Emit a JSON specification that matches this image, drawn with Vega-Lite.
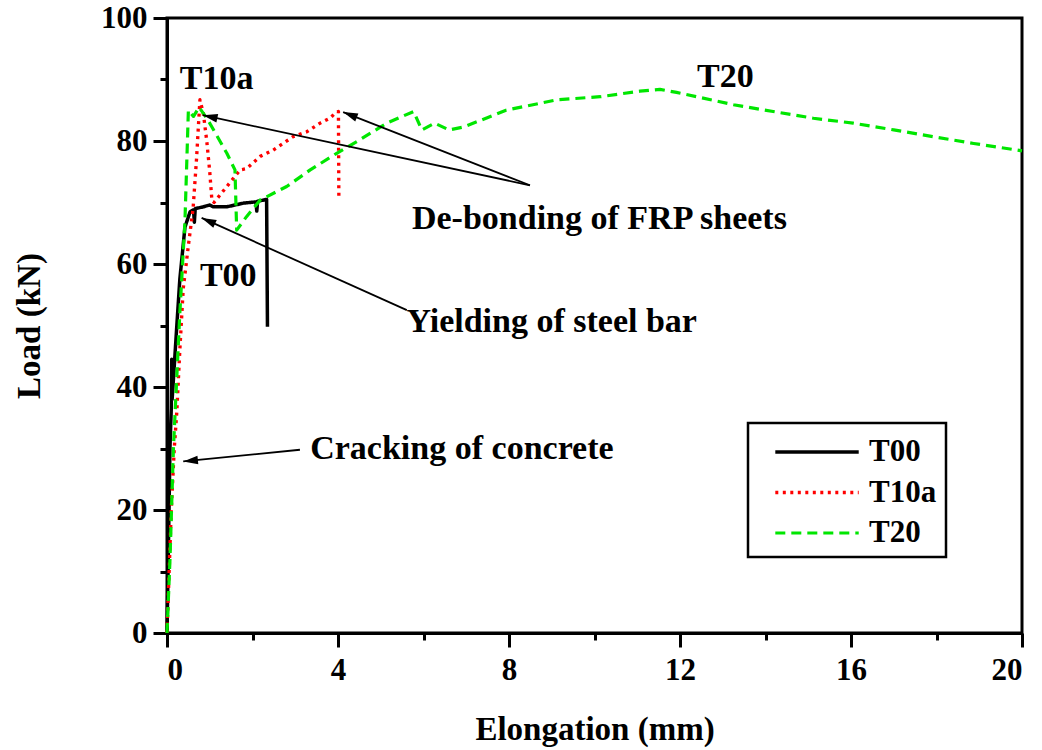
{
  "$schema": "https://vega.github.io/schema/vega-lite/v6.json",
  "width": 855,
  "height": 615,
  "autosize": {"type": "none"},
  "padding": {"left": 167, "top": 18, "right": 20, "bottom": 117},
  "background": "white",
  "config": {
    "view": {"stroke": "black", "strokeWidth": 3},
    "axis": {
      "domainColor": "black", "domainWidth": 3, "tickColor": "black", "tickWidth": 3,
      "labelColor": "black", "titleColor": "black",
      "labelFont": "Liberation Serif", "titleFont": "Liberation Serif",
      "labelFontWeight": "bold", "titleFontWeight": "bold",
      "labelFontSize": 31, "titleFontSize": 33, "grid": false
    },
    "legend": {
      "labelFont": "Liberation Serif", "labelFontWeight": "bold", "labelFontSize": 31, "labelColor": "black",
      "strokeColor": "black", "strokeWidth": 2.5, "padding": 9, "rowPadding": 5.5,
      "symbolStrokeWidth": 4
    }
  },
  "resolve": {"axis": {"x": "independent", "y": "independent"}},
  "layer": [
    {
      "data": {"values": [
        {"series": "T00", "elongation": 0, "load": 0},
        {"series": "T00", "elongation": 0.03, "load": 12.4},
        {"series": "T00", "elongation": 0.07, "load": 30.3},
        {"series": "T00", "elongation": 0.1, "load": 36.5},
        {"series": "T00", "elongation": 0.11, "load": 44.5},
        {"series": "T00", "elongation": 0.12, "load": 38},
        {"series": "T00", "elongation": 0.23, "load": 50},
        {"series": "T00", "elongation": 0.3, "load": 57.5},
        {"series": "T00", "elongation": 0.42, "load": 66},
        {"series": "T00", "elongation": 0.54, "load": 68.5},
        {"series": "T00", "elongation": 0.62, "load": 68.8},
        {"series": "T00", "elongation": 0.64, "load": 66.8},
        {"series": "T00", "elongation": 0.66, "load": 69},
        {"series": "T00", "elongation": 0.85, "load": 69.3},
        {"series": "T00", "elongation": 1.0, "load": 69.6},
        {"series": "T00", "elongation": 1.08, "load": 69.3},
        {"series": "T00", "elongation": 1.4, "load": 69.3},
        {"series": "T00", "elongation": 1.79, "load": 69.9},
        {"series": "T00", "elongation": 2.08, "load": 70.1},
        {"series": "T00", "elongation": 2.1, "load": 68.6},
        {"series": "T00", "elongation": 2.12, "load": 70.2},
        {"series": "T00", "elongation": 2.33, "load": 70.5},
        {"series": "T00", "elongation": 2.35, "load": 49.8},
        {"series": "T10a", "elongation": 0, "load": 0},
        {"series": "T10a", "elongation": 0.05, "load": 10},
        {"series": "T10a", "elongation": 0.1, "load": 20},
        {"series": "T10a", "elongation": 0.17, "load": 30},
        {"series": "T10a", "elongation": 0.23, "load": 36},
        {"series": "T10a", "elongation": 0.3, "load": 46},
        {"series": "T10a", "elongation": 0.38, "load": 56},
        {"series": "T10a", "elongation": 0.5, "load": 63},
        {"series": "T10a", "elongation": 0.61, "load": 69},
        {"series": "T10a", "elongation": 0.69, "load": 77},
        {"series": "T10a", "elongation": 0.77, "load": 86.7},
        {"series": "T10a", "elongation": 0.85, "load": 84.5},
        {"series": "T10a", "elongation": 0.93, "load": 80},
        {"series": "T10a", "elongation": 1.0, "load": 75},
        {"series": "T10a", "elongation": 1.05, "load": 70.4},
        {"series": "T10a", "elongation": 1.1, "load": 70},
        {"series": "T10a", "elongation": 1.4, "load": 72.6},
        {"series": "T10a", "elongation": 1.71, "load": 75.3},
        {"series": "T10a", "elongation": 1.86, "load": 75.5},
        {"series": "T10a", "elongation": 2.18, "load": 77.5},
        {"series": "T10a", "elongation": 2.48, "load": 78.5},
        {"series": "T10a", "elongation": 2.95, "load": 80.7},
        {"series": "T10a", "elongation": 3.27, "load": 81.5},
        {"series": "T10a", "elongation": 3.58, "load": 82.9},
        {"series": "T10a", "elongation": 3.81, "load": 83.7},
        {"series": "T10a", "elongation": 3.93, "load": 84.5},
        {"series": "T10a", "elongation": 4.01, "load": 84.8},
        {"series": "T10a", "elongation": 4.02, "load": 70.9},
        {"series": "T20", "elongation": 0, "load": 0},
        {"series": "T20", "elongation": 0.07, "load": 12},
        {"series": "T20", "elongation": 0.15, "load": 30},
        {"series": "T20", "elongation": 0.3, "load": 52},
        {"series": "T20", "elongation": 0.42, "load": 67},
        {"series": "T20", "elongation": 0.5, "load": 85},
        {"series": "T20", "elongation": 0.62, "load": 84},
        {"series": "T20", "elongation": 0.75, "load": 85.5},
        {"series": "T20", "elongation": 0.9, "load": 84},
        {"series": "T20", "elongation": 1.0, "load": 82.9},
        {"series": "T20", "elongation": 1.4, "load": 78},
        {"series": "T20", "elongation": 1.59, "load": 75.3},
        {"series": "T20", "elongation": 1.63, "load": 65.5},
        {"series": "T20", "elongation": 1.86, "load": 67.7},
        {"series": "T20", "elongation": 2.18, "load": 70.4},
        {"series": "T20", "elongation": 2.8, "load": 72.6},
        {"series": "T20", "elongation": 3.35, "load": 75.3},
        {"series": "T20", "elongation": 3.97, "load": 78},
        {"series": "T20", "elongation": 4.51, "load": 80.2},
        {"series": "T20", "elongation": 5.0, "load": 82.3},
        {"series": "T20", "elongation": 5.14, "load": 82.9},
        {"series": "T20", "elongation": 5.77, "load": 84.8},
        {"series": "T20", "elongation": 5.96, "load": 81.8},
        {"series": "T20", "elongation": 6.26, "load": 82.9},
        {"series": "T20", "elongation": 6.6, "load": 81.8},
        {"series": "T20", "elongation": 6.95, "load": 82.3},
        {"series": "T20", "elongation": 7.93, "load": 85},
        {"series": "T20", "elongation": 9.12, "load": 86.7},
        {"series": "T20", "elongation": 10.13, "load": 87.2},
        {"series": "T20", "elongation": 11.06, "load": 88.1},
        {"series": "T20", "elongation": 11.53, "load": 88.4},
        {"series": "T20", "elongation": 11.92, "load": 87.9},
        {"series": "T20", "elongation": 12.39, "load": 87.2},
        {"series": "T20", "elongation": 13.25, "load": 85.9},
        {"series": "T20", "elongation": 14.18, "load": 84.8},
        {"series": "T20", "elongation": 15.12, "load": 83.7},
        {"series": "T20", "elongation": 16.05, "load": 82.9},
        {"series": "T20", "elongation": 17.0, "load": 81.8},
        {"series": "T20", "elongation": 17.93, "load": 80.7},
        {"series": "T20", "elongation": 18.87, "load": 79.6},
        {"series": "T20", "elongation": 20.0, "load": 78.4}
      ]},
      "mark": {"type": "line", "strokeJoin": "round"},
      "encoding": {
        "x": {"field": "elongation", "type": "quantitative", "scale": {"domain": [0, 20], "nice": false},
              "axis": {"orient": "bottom", "values": [0, 4, 8, 12, 16, 20], "tickSize": 14, "labelPadding": 8, "title": "Elongation (mm)", "titlePadding": 28}},
        "y": {"field": "load", "type": "quantitative", "scale": {"domain": [0, 100], "nice": false},
              "axis": {"orient": "left", "values": [0, 20, 40, 60, 80, 100], "tickSize": 14, "labelPadding": 6, "title": "Load (kN)", "titlePadding": 54}},
        "color": {"field": "series", "type": "nominal",
                  "scale": {"domain": ["T00", "T10a", "T20"], "range": ["#000000", "#ff0000", "#00e600"]},
                  "legend": {"orient": "none", "legendX": 581, "legendY": 405, "title": null, "symbolType": "M-0.094,0H4.54", "symbolSize": 1296, "labelOffset": 72}},
        "strokeDash": {"field": "series", "type": "nominal",
                  "scale": {"domain": ["T00", "T10a", "T20"], "range": [[1, 0], [3, 4.5], [10, 6]]},
                  "legend": {"orient": "none", "legendX": 581, "legendY": 405, "title": null, "symbolType": "M-0.094,0H4.54", "symbolSize": 1296, "labelOffset": 72}},
        "strokeWidth": {"field": "series", "type": "nominal",
                  "scale": {"domain": ["T00", "T10a", "T20"], "range": [3.5, 3.2, 4.5]}, "legend": null},
        "order": {"value": null}
      }
    },
    {
      "data": {"values": [
        {"x1": 8.49, "y1": 72.8, "x2": 0.84, "y2": 84.2},
        {"x1": 8.49, "y1": 72.8, "x2": 4.12, "y2": 84.7},
        {"x1": 5.61, "y1": 52.5, "x2": 0.81, "y2": 67.5},
        {"x1": 3.11, "y1": 29.8, "x2": 0.38, "y2": 27.9}
      ]},
      "mark": {"type": "rule", "color": "black", "strokeWidth": 1.8},
      "encoding": {
        "x": {"field": "x1", "type": "quantitative", "axis": null},
        "y": {"field": "y1", "type": "quantitative", "axis": null},
        "x2": {"field": "x2"},
        "y2": {"field": "y2"}
      }
    },
    {
      "data": {"values": [{"x": 0.84, "y": 84.2}]},
      "mark": {"type": "point", "shape": "M0,0L0.35,1.2L-0.35,1.2Z", "filled": true, "color": "black", "opacity": 1, "size": 600, "angle": -77.9},
      "encoding": {"x": {"field": "x", "type": "quantitative", "axis": null}, "y": {"field": "y", "type": "quantitative", "axis": null}}
    },
    {
      "data": {"values": [{"x": 4.12, "y": 84.7}]},
      "mark": {"type": "point", "shape": "M0,0L0.35,1.2L-0.35,1.2Z", "filled": true, "color": "black", "opacity": 1, "size": 600, "angle": -68.7},
      "encoding": {"x": {"field": "x", "type": "quantitative", "axis": null}, "y": {"field": "y", "type": "quantitative", "axis": null}}
    },
    {
      "data": {"values": [{"x": 0.81, "y": 67.5}]},
      "mark": {"type": "point", "shape": "M0,0L0.35,1.2L-0.35,1.2Z", "filled": true, "color": "black", "opacity": 1, "size": 600, "angle": -65.8},
      "encoding": {"x": {"field": "x", "type": "quantitative", "axis": null}, "y": {"field": "y", "type": "quantitative", "axis": null}}
    },
    {
      "data": {"values": [{"x": 0.38, "y": 27.9}]},
      "mark": {"type": "point", "shape": "M0,0L0.35,1.2L-0.35,1.2Z", "filled": true, "color": "black", "opacity": 1, "size": 600, "angle": -95.7},
      "encoding": {"x": {"field": "x", "type": "quantitative", "axis": null}, "y": {"field": "y", "type": "quantitative", "axis": null}}
    },
    {
      "data": {"values": [
        {"label": "T10a", "x": 0.3, "y": 88.5},
        {"label": "T00", "x": 0.77, "y": 56.4},
        {"label": "T20", "x": 12.4, "y": 88.8},
        {"label": "De-bonding of FRP sheets", "x": 5.73, "y": 65.7},
        {"label": "Yielding of steel bar", "x": 5.6, "y": 48.9},
        {"label": "Cracking of concrete", "x": 3.35, "y": 28.3}
      ]},
      "mark": {"type": "text", "align": "left", "baseline": "alphabetic", "font": "Liberation Serif", "fontWeight": "bold", "fontSize": 34, "color": "black"},
      "encoding": {
        "x": {"field": "x", "type": "quantitative",
              "axis": {"orient": "bottom", "values": [2, 6, 10, 14, 18], "tickSize": 7, "labels": false, "domain": false, "title": null}},
        "y": {"field": "y", "type": "quantitative",
              "axis": {"orient": "left", "values": [10, 30, 50, 70, 90], "tickSize": 7, "labels": false, "domain": false, "title": null}},
        "text": {"field": "label"}
      }
    }
  ]
}
